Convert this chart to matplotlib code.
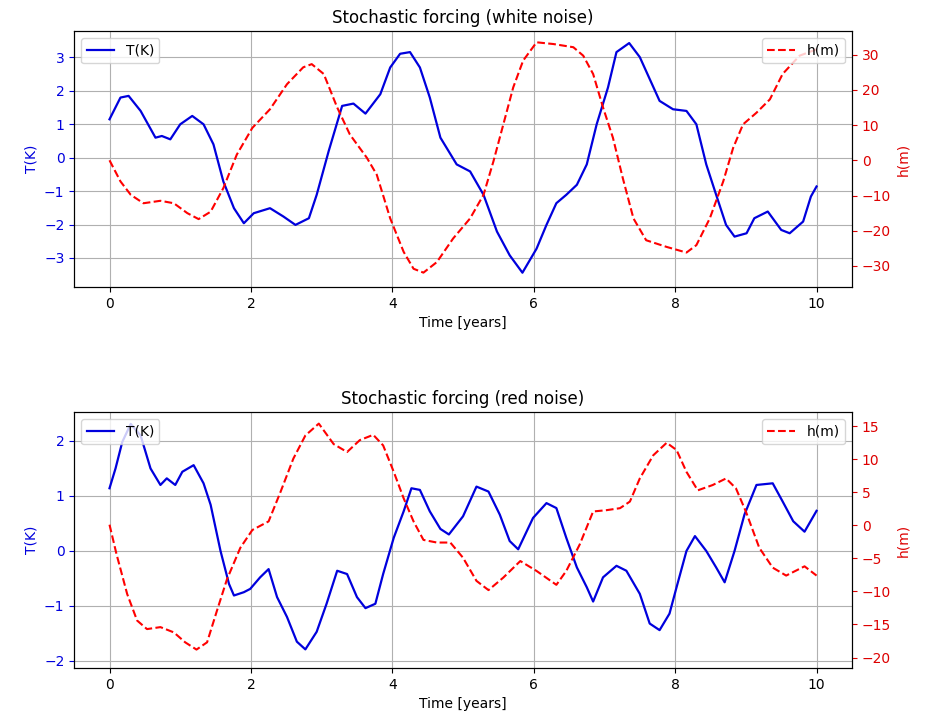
import matplotlib.pyplot as plt

# white noise run
t_white_T = [0, 0.155, 0.27, 0.44, 0.65, 0.74, 0.86, 1.0, 1.17, 1.33, 1.47, 1.61, 1.76, 1.90,
             2.04, 2.27, 2.46, 2.63, 2.82, 2.93, 3.10, 3.29, 3.45, 3.62, 3.83, 3.97, 4.11, 4.25,
             4.39, 4.53, 4.68, 4.91, 5.10, 5.29, 5.48, 5.66, 5.84, 6.04, 6.18, 6.32, 6.46, 6.61,
             6.75, 6.89, 7.05, 7.17, 7.35, 7.50, 7.78, 7.97, 8.16, 8.30, 8.44, 8.58, 8.72, 8.84,
             9.01, 9.12, 9.31, 9.50, 9.62, 9.81, 9.92, 10.0]
T_white = [1.15, 1.80, 1.85, 1.40, 0.60, 0.65, 0.55, 1.0, 1.25, 1.0, 0.40, -0.71, -1.51, -1.96,
           -1.66, -1.51, -1.76, -2.01, -1.81, -1.11, 0.2, 1.55, 1.62, 1.32, 1.90, 2.70, 3.11, 3.16,
           2.70, 1.80, 0.60, -0.2, -0.41, -1.11, -2.21, -2.92, -3.44, -2.72, -2.01, -1.36, -1.11, -0.81,
           -0.2, 1.0, 2.10, 3.16, 3.43, 3.01, 1.70, 1.45, 1.40, 1.0, -0.2, -1.11, -2.01, -2.36,
           -2.26, -1.81, -1.61, -2.16, -2.26, -1.91, -1.16, -0.86]

t_white_h = [0, 0.155, 0.30, 0.48, 0.72, 0.91, 1.10, 1.26, 1.43, 1.61, 1.80, 2.02, 2.27, 2.51,
             2.74, 2.86, 3.03, 3.22, 3.40, 3.64, 3.78, 3.97, 4.16, 4.30, 4.44, 4.63, 4.86, 5.10,
             5.29, 5.43, 5.57, 5.71, 5.85, 6.04, 6.28, 6.56, 6.70, 6.84, 6.98, 7.12, 7.26, 7.41,
             7.59, 7.88, 8.16, 8.30, 8.49, 8.68, 8.82, 8.96, 9.15, 9.34, 9.52, 9.76, 10.0]
h_white = [0, -6, -9.8, -12.2, -11.5, -12.2, -15, -16.7, -14.6, -7.9, 1.6, 9.2, 14.5, 21.6,
           26.4, 27.3, 24.5, 15, 7.3, 0.7, -4.1, -16.5, -26, -30.8, -31.9, -28.9, -22.2, -16.5,
           -9.8, -0.3, 10.2, 20.7, 28.3, 33.5, 33, 32.1, 29.7, 24.5, 15, 6.4, -5.1, -16.5,
           -22.7, -24.6, -26.2, -24.1, -16.5, -6, 3.5, 10.2, 13.5, 17.3, 24.5, 29.7, 31.5]

# red noise run
t_red_T = [0, 0.085, 0.18, 0.30, 0.44, 0.58, 0.72, 0.81, 0.93, 1.03, 1.19, 1.33, 1.43, 1.57,
           1.69, 1.76, 1.90, 1.99, 2.13, 2.25, 2.37, 2.51, 2.65, 2.77, 2.93, 3.07, 3.22, 3.36,
           3.50, 3.62, 3.76, 3.87, 4.02, 4.16, 4.27, 4.39, 4.53, 4.68, 4.80, 5.0, 5.19, 5.36,
           5.52, 5.66, 5.78, 5.99, 6.18, 6.32, 6.46, 6.61, 6.75, 6.84, 6.98, 7.17, 7.31, 7.50,
           7.64, 7.78, 7.92, 8.02, 8.16, 8.28, 8.44, 8.58, 8.70, 8.84, 8.98, 9.15, 9.38, 9.52,
           9.67, 9.83, 10.0]
T_red = [1.14, 1.50, 1.98, 2.31, 2.10, 1.50, 1.20, 1.32, 1.20, 1.44, 1.56, 1.23, 0.84, 0,
         -0.60, -0.81, -0.75, -0.69, -0.48, -0.33, -0.84, -1.20, -1.65, -1.79, -1.47, -0.96, -0.36, -0.42,
         -0.84, -1.04, -0.96, -0.42, 0.24, 0.72, 1.14, 1.11, 0.72, 0.40, 0.30, 0.63, 1.17, 1.08,
         0.66, 0.18, 0.03, 0.60, 0.87, 0.78, 0.24, -0.30, -0.66, -0.92, -0.48, -0.27, -0.36, -0.78,
         -1.32, -1.44, -1.14, -0.66, 0, 0.27, 0, -0.30, -0.57, 0, 0.66, 1.20, 1.23, 0.90,
         0.54, 0.35, 0.73]

t_red_h = [0, 0.10, 0.25, 0.39, 0.53, 0.72, 0.91, 1.07, 1.23, 1.38, 1.52, 1.66, 1.85, 2.02,
           2.25, 2.42, 2.60, 2.77, 2.96, 3.17, 3.36, 3.54, 3.73, 3.87, 4.02, 4.16, 4.30, 4.44,
           4.63, 4.82, 5.0, 5.19, 5.36, 5.57, 5.81, 6.04, 6.32, 6.46, 6.65, 6.84, 7.03, 7.22,
           7.36, 7.50, 7.69, 7.88, 8.02, 8.16, 8.32, 8.53, 8.72, 8.86, 9.00, 9.19, 9.38, 9.57,
           9.83, 10.0]
h_red = [0.1, -4.4, -10.4, -14.4, -15.7, -15.4, -16.2, -17.7, -18.8, -17.7, -12.9, -8.2, -3.4, -0.7,
         0.6, 5.1, 10.1, 13.6, 15.4, 12.3, 11.1, 12.9, 13.7, 12.1, 8.1, 4.1, 0.6, -2.2,
         -2.6, -2.6, -4.9, -8.4, -9.8, -7.9, -5.4, -6.9, -9.0, -6.9, -2.9, 2.1, 2.3, 2.6,
         3.6, 7.1, 10.6, 12.5, 11.4, 8.1, 5.3, 6.1, 7.1, 5.6, 2.1, -3.4, -6.4, -7.6,
         -6.2, -7.6]

panels = [
    ("Stochastic forcing (white noise)", t_white_T, T_white, t_white_h, h_white,
     (-3.87, 3.78), (-36, 36.6)),
    ("Stochastic forcing (red noise)", t_red_T, T_red, t_red_h, h_red,
     (-2.13, 2.52), (-21.6, 17.1)),
]

fig, axes = plt.subplots(2, 1, figsize=(9.27, 7.13), dpi=100)
plt.subplots_adjust(left=0.080, right=0.919, top=0.956, bottom=0.063, hspace=0.49)

for ax, (title, tT, T, th, h, ylT, ylh) in zip(axes, panels):
    ax.plot(tT, T, color='#0000dd', lw=1.6, label='T(K)')
    ax.set_ylim(ylT)
    ax.set_xlim(-0.5, 10.5)
    ax.set_xlabel('Time [years]')
    ax.set_ylabel('T(K)', color='#0000dd')
    ax.tick_params(axis='y', colors='#0000dd')
    ax.grid(True)
    ax.set_title(title, fontsize=12)
    ax.legend(loc='upper left')

    ax2 = ax.twinx()
    ax2.plot(th, h, 'r--', lw=1.5, label='h(m)')
    ax2.set_ylim(ylh)
    ax2.set_ylabel('h(m)', color='#dd0000')
    ax2.tick_params(axis='y', colors='#dd0000')
    ax2.legend(loc='upper right')

plt.savefig('out.png')
